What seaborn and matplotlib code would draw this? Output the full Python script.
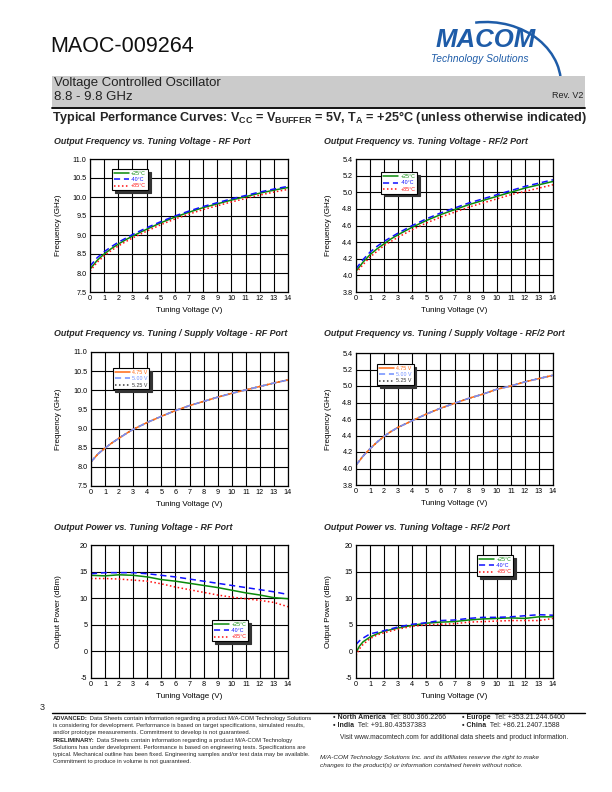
"""MAOC-009264 datasheet page 3: typical performance curves."""

import matplotlib
matplotlib.use("Agg")
import matplotlib.pyplot as plt
import seaborn as sns
from matplotlib import font_manager
from matplotlib.patches import Arc, Rectangle
from matplotlib.ticker import FormatStrFormatter

W, H = 612, 792

# ─── Data ─────────────────────────────────────────────────────────────────────

tune_v = [0, 0.5, 1, 1.5, 2, 2.5, 3, 4, 5, 6, 7, 8, 9, 10, 11, 12, 13, 14]

rf_freq_p25 = [8.10, 8.33, 8.50, 8.64, 8.76, 8.87, 8.97, 9.15, 9.32, 9.47, 9.60, 9.72, 9.82, 9.92, 10.01, 10.10, 10.18, 10.25]
rf_freq_m40 = [8.18, 8.40, 8.56, 8.69, 8.81, 8.91, 9.01, 9.19, 9.35, 9.50, 9.63, 9.75, 9.85, 9.95, 10.04, 10.13, 10.21, 10.28]
rf_freq_p85 = [8.05, 8.28, 8.45, 8.59, 8.71, 8.82, 8.92, 9.10, 9.27, 9.42, 9.55, 9.67, 9.77, 9.87, 9.96, 10.05, 10.13, 10.20]

rf2_freq_p25 = [4.05, 4.16, 4.25, 4.32, 4.38, 4.44, 4.49, 4.58, 4.66, 4.73, 4.79, 4.85, 4.90, 4.95, 5.00, 5.05, 5.09, 5.13]
rf2_freq_m40 = [4.08, 4.19, 4.28, 4.35, 4.41, 4.46, 4.51, 4.60, 4.68, 4.75, 4.81, 4.87, 4.92, 4.97, 5.02, 5.07, 5.11, 5.15]
rf2_freq_p85 = [4.03, 4.13, 4.22, 4.29, 4.36, 4.41, 4.46, 4.55, 4.63, 4.70, 4.76, 4.82, 4.87, 4.92, 4.97, 5.01, 5.05, 5.09]

rf_freq_475 = [8.13, 8.34, 8.49, 8.63, 8.75, 8.87, 8.98, 9.16, 9.32, 9.47, 9.60, 9.71, 9.82, 9.92, 10.01, 10.10, 10.19, 10.27]
rf_freq_500 = [8.13, 8.34, 8.49, 8.63, 8.75, 8.87, 8.98, 9.16, 9.32, 9.47, 9.60, 9.71, 9.82, 9.92, 10.01, 10.10, 10.19, 10.27]
rf_freq_525 = [8.13, 8.34, 8.49, 8.63, 8.75, 8.87, 8.98, 9.16, 9.32, 9.47, 9.60, 9.71, 9.82, 9.92, 10.01, 10.10, 10.19, 10.27]

rf2_freq_475 = [4.04, 4.15, 4.24, 4.32, 4.39, 4.45, 4.50, 4.58, 4.66, 4.73, 4.79, 4.85, 4.90, 4.96, 5.00, 5.05, 5.09, 5.13]
rf2_freq_500 = [4.04, 4.15, 4.24, 4.32, 4.39, 4.45, 4.50, 4.58, 4.66, 4.73, 4.79, 4.85, 4.90, 4.96, 5.00, 5.05, 5.09, 5.13]
rf2_freq_525 = [4.04, 4.15, 4.24, 4.32, 4.39, 4.45, 4.50, 4.58, 4.66, 4.73, 4.79, 4.85, 4.90, 4.96, 5.00, 5.05, 5.09, 5.13]

pwr_v = [0, 1, 2, 3, 4, 5, 6, 7, 8, 9, 10, 11, 12, 13, 14]
rf_pwr_p25 = [14.3, 14.2, 14.4, 14.3, 14.0, 13.5, 13.2, 12.8, 12.4, 12.0, 11.5, 11.0, 10.6, 10.1, 9.9]
rf_pwr_m40 = [14.6, 14.8, 14.8, 14.8, 14.6, 14.3, 14.0, 13.6, 13.2, 12.8, 12.4, 12.0, 11.6, 11.2, 10.7]
rf_pwr_p85 = [13.7, 13.7, 13.6, 13.4, 13.2, 12.7, 12.1, 11.6, 11.1, 10.6, 10.2, 9.9, 9.6, 9.2, 8.4]

pwr2_v = [0, 0.25, 0.5, 1, 1.5, 2, 3, 4, 5, 6, 7, 8, 9, 10, 11, 12, 13, 14]
rf2_pwr_p25 = [-0.2, 1.0, 1.8, 2.7, 3.3, 3.8, 4.4, 4.9, 5.3, 5.5, 5.6, 5.9, 6.1, 6.2, 6.3, 6.2, 6.5, 6.5]
rf2_pwr_m40 = [1.3, 2.0, 2.5, 3.3, 3.6, 3.9, 4.6, 5.1, 5.4, 5.8, 5.9, 6.2, 6.4, 6.4, 6.5, 6.7, 6.9, 6.8]
rf2_pwr_p85 = [-0.8, 0.5, 1.3, 2.4, 3.1, 3.5, 4.2, 4.7, 5.0, 5.1, 5.2, 5.5, 5.6, 5.7, 5.8, 5.8, 5.8, 6.2]

temp_labels = ["+25°C", "-40°C", "+85°C"]
supply_labels = ["4.75 V", "5.00 V", "5.25 V"]
x_ticks = list(range(0, 15))
freq_rf_ticks = [7.5, 8.0, 8.5, 9.0, 9.5, 10.0, 10.5, 11.0]
freq_rf2_ticks = [3.8, 4.0, 4.2, 4.4, 4.6, 4.8, 5.0, 5.2, 5.4]
pwr_ticks = [-5, 0, 5, 10, 15, 20]

# ─── Style ────────────────────────────────────────────────────────────────────

sns.set_theme(style="white")
plt.rcParams["font.family"] = ["Liberation Sans", "DejaVu Sans"]
plt.rcParams["mathtext.fontset"] = "custom"
plt.rcParams["mathtext.rm"] = "Liberation Sans"
plt.rcParams["mathtext.bf"] = "Liberation Sans:bold"

installed = {f.name for f in font_manager.fontManager.ttflist}
has_narrow = "Liberation Sans Narrow" in installed
NARROW = ["Liberation Sans Narrow", "Liberation Sans"] if has_narrow else ["Liberation Sans"]

GREEN, BLUE, RED = "#0a8a0a", "#1010ff", "#ff1010"
ORANGE, LBLUE, GREY = "#ff6a13", "#6f8fff", "#3a3a3a"
SOLID, DASH, DOT = "-", (0, (4, 2.5)), (0, (1, 1.6))
TEMP_STYLE = [(GREEN, SOLID), (BLUE, DASH), (RED, DOT)]
SUPPLY_STYLE = [(ORANGE, SOLID), (LBLUE, DASH), (GREY, DOT)]

fig = plt.figure(figsize=(W / 100, H / 100), dpi=100)
page = fig.add_axes([0, 0, 1, 1])
page.set_xlim(0, W)
page.set_ylim(H, 0)
page.axis("off")


def px_axes(x0, y0, x1, y1):
    return fig.add_axes([x0 / W, 1 - y1 / H, (x1 - x0) / W, (y1 - y0) / H])


def draw_panel(box, title, title_xy, series, ylim, yticks, yfmt, ylabel,
               ylab_x, legend_at):
    """series: list of (x, y, label, color, linestyle, legend_rank)."""
    ax = px_axes(*box)
    for x, y, label, color, ls, _rank in series:
        sns.lineplot(x=x, y=y, ax=ax, color=color, linestyle=ls,
                     linewidth=1.1, label=label)
    ax.set_xlim(0, 14)
    ax.set_ylim(*ylim)
    ax.set_xticks(x_ticks)
    ax.set_yticks(yticks)
    ax.yaxis.set_major_formatter(FormatStrFormatter(yfmt))
    ax.set_axisbelow(True)
    ax.grid(True, color="black", linewidth=0.8)
    for sp in ax.spines.values():
        sp.set_color("black")
        sp.set_linewidth(0.9)
    ax.tick_params(axis="both", length=0, labelsize=5.2, pad=2.5, colors="black")
    ax.set_xlabel("Tuning Voltage (V)", fontsize=5.8, color="black")
    ax.set_ylabel(ylabel, fontsize=5.8, color="black")
    ax.xaxis.set_label_coords(0.5, -0.115)
    ax.yaxis.set_label_coords(ylab_x, 0.5)

    # legend order follows the reference, not the draw order
    handles, labels = ax.get_legend_handles_labels()
    order = sorted(range(len(labels)), key=lambda i: series[i][5])
    leg = ax.legend([handles[i] for i in order], [labels[i] for i in order],
                    loc="upper left", bbox_to_anchor=legend_at, fontsize=3.8,
                    frameon=True, fancybox=False, framealpha=1,
                    shadow={"facecolor": "0.2", "edgecolor": "0.2", "alpha": 1},
                    borderpad=0.35, borderaxespad=0, handlelength=2.9,
                    handletextpad=0.4, labelspacing=0.25)
    leg.get_frame().set_edgecolor("black")
    leg.get_frame().set_linewidth(0.8)
    for txt, line in zip(leg.get_texts(), leg.get_lines()):
        txt.set_color(line.get_color())

    page.text(*title_xy, title, fontsize=6.4, fontweight="bold",
              fontstyle="italic", va="center", ha="left")
    return ax


def temp_series(x, vals):
    return [(x, v, lab, c, ls, i) for i, (v, lab, (c, ls))
            in enumerate(zip(vals, temp_labels, TEMP_STYLE))]


def supply_series(x, vals):
    # 5.25 V drawn first so the orange / blue curves sit on top
    draw = [2, 0, 1]
    return [(x, vals[i], supply_labels[i], SUPPLY_STYLE[i][0], SUPPLY_STYLE[i][1], i)
            for i in draw]


# ─── Page header ──────────────────────────────────────────────────────────────

page.text(50, 47, "MAOC-009264", family=NARROW, fontsize=18 if has_narrow else 15.5,
          va="center", ha="left", color="#111111")
page.add_patch(Arc((486, 84), 150, 124, theta1=-100, theta2=6,
                   color="#1e5ca8", linewidth=1.8))
page.text(486, 40, "MACOM", fontsize=18.5, fontweight="bold", fontstyle="italic",
          color="#1e5ca8", ha="center", va="center")
page.text(480, 59, "Technology Solutions", fontsize=7.4, fontstyle="italic",
          color="#1e5ca8", ha="center", va="center")

page.add_patch(Rectangle((52, 76), 533, 31, facecolor="#cbcbcb", edgecolor="none"))
page.plot([52, 585], [108, 108], color="black", linewidth=1.3)
page.text(54, 83, "Voltage Controlled Oscillator", family=NARROW,
          fontsize=9.5, va="center", color="#222222")
page.text(54, 97, "8.8 - 9.8 GHz", family=NARROW, fontsize=9.5, va="center",
          color="#222222")
page.text(583, 96, "Rev. V2", family=NARROW, fontsize=6.5, va="center",
          ha="right", color="#222222")
page.text(52, 118,
          r"Typical Performance Curves: V$_\mathbf{CC}$ = V$_\mathbf{BUFFER}$ = 5V, "
          r"T$_\mathbf{A}$ = +25°C (unless otherwise indicated)",
          fontsize=9.1, fontweight="bold", va="center")

# ─── Panels ───────────────────────────────────────────────────────────────────

draw_panel((90, 159, 288, 292), "Output Frequency vs. Tuning Voltage - RF Port",
           (54, 141), temp_series(tune_v, [rf_freq_p25, rf_freq_m40, rf_freq_p85]),
           (7.5, 11.0), freq_rf_ticks, "%.1f", "Frequency (GHz)", -0.14, (0.11, 0.925))
draw_panel((356, 159, 553, 292), "Output Frequency vs. Tuning Voltage - RF/2 Port",
           (324, 141), temp_series(tune_v, [rf2_freq_p25, rf2_freq_m40, rf2_freq_p85]),
           (3.8, 5.4), freq_rf2_ticks, "%.1f", "Frequency (GHz)", -0.12, (0.127, 0.90))
draw_panel((91, 352, 288, 486), "Output Frequency vs. Tuning / Supply Voltage - RF Port",
           (54, 333), supply_series(tune_v, [rf_freq_475, rf_freq_500, rf_freq_525]),
           (7.5, 11.0), freq_rf_ticks, "%.1f", "Frequency (GHz)", -0.145, (0.11, 0.88))
draw_panel((356, 353, 553, 485), "Output Frequency vs. Tuning / Supply Voltage - RF/2 Port",
           (324, 333), supply_series(tune_v, [rf2_freq_475, rf2_freq_500, rf2_freq_525]),
           (3.8, 5.4), freq_rf2_ticks, "%.1f", "Frequency (GHz)", -0.12, (0.107, 0.917))
draw_panel((91, 545, 288, 678), "Output Power vs. Tuning Voltage - RF Port",
           (54, 527), temp_series(pwr_v, [rf_pwr_p25, rf_pwr_m40, rf_pwr_p85]),
           (-5, 20), pwr_ticks, "%d", "Output Power (dBm)", -0.147, (0.614, 0.436))
draw_panel((356, 545, 553, 678), "Output Power vs. Tuning Voltage - RF/2 Port",
           (324, 527), temp_series(pwr2_v, [rf2_pwr_p25, rf2_pwr_m40, rf2_pwr_p85]),
           (-5, 20), pwr_ticks, "%d", "Output Power (dBm)", -0.12, (0.614, 0.925))

# ─── Footer ───────────────────────────────────────────────────────────────────


def rich_line(x, y, parts, size, style="normal"):
    prev = None
    for text, weight in parts:
        if prev is None:
            prev = page.text(x, y, text, fontsize=size, fontweight=weight,
                             fontstyle=style, va="bottom", ha="left")
        else:
            prev = page.annotate(text, xy=(1, 0), xycoords=prev, fontsize=size,
                                 fontweight=weight, fontstyle=style,
                                 va="bottom", ha="left")


page.text(40, 708, "3", fontsize=6.5, va="center")
page.plot([52, 585], [713, 713], color="black", linewidth=1.0)

left_lines = [
    [("ADVANCED:", "bold"), (" Data Sheets contain information regarding a product M/A-COM Technology Solutions", "normal")],
    [("is considering for development. Performance is based on target specifications, simulated results,", "normal")],
    [("and/or prototype measurements. Commitment to develop is not guaranteed.", "normal")],
    [("PRELIMINARY:", "bold"), (" Data Sheets contain information regarding a product M/A-COM Technology", "normal")],
    [("Solutions has under development. Performance is based on engineering tests. Specifications are", "normal")],
    [("typical. Mechanical outline has been fixed. Engineering samples and/or test data may be available.", "normal")],
    [("Commitment to produce in volume is not guaranteed.", "normal")],
]
for i, parts in enumerate(left_lines):
    rich_line(53, 721 + i * 7.2, parts, 4.2)

rich_line(333, 721, [("• North America", "bold"), ("  Tel: 800.366.2266", "normal")], 5)
rich_line(462, 721, [("• Europe", "bold"), ("  Tel: +353.21.244.6400", "normal")], 5)
rich_line(333, 729, [("• India", "bold"), ("  Tel: +91.80.43537383", "normal")], 5)
rich_line(462, 729, [("• China", "bold"), ("  Tel: +86.21.2407.1588", "normal")], 5)
rich_line(340, 741, [("Visit www.macomtech.com for additional data sheets and product information.", "normal")], 4.8)
rich_line(320, 760, [("M/A-COM Technology Solutions Inc. and its affiliates reserve the right to make", "normal")], 4.6, "italic")
rich_line(320, 768, [("changes to the product(s) or information contained herein without notice.", "normal")], 4.6, "italic")

fig.savefig("out.png", dpi=100)
plt.close(fig)
